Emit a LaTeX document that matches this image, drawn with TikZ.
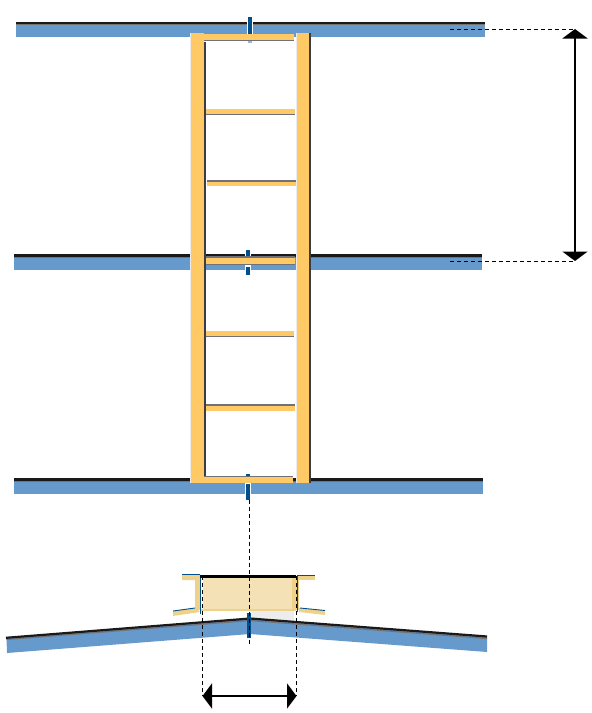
\documentclass[tikz,border=0pt]{standalone}
\usetikzlibrary{arrows.meta}
\definecolor{beamblue}{HTML}{6699CC}
\definecolor{boltblue}{HTML}{004F8C}
\definecolor{woodyel}{HTML}{FFC966}
\definecolor{chanyel}{HTML}{EFD28A}
\definecolor{boxfill}{HTML}{F5E1B6}
\definecolor{edgegrey}{HTML}{707078}
\definecolor{stringeredge}{HTML}{3C3C44}
\tikzset{
  beam/.style={fill=beamblue,draw=none},
  topline/.style={draw=black!90,line width=2.2pt},
  underline/.style={draw=black!55,line width=1.2pt},
  wood/.style={fill=woodyel,draw=none},
  shade line/.style={draw=edgegrey,line width=1.3pt},
  stringer line/.style={draw=stringeredge,line width=2pt},
  halo/.style={fill=white,draw=none},
  bolt/.style={fill=boltblue,draw=none},
  chan/.style={fill=chanyel,draw=none},
  chanedge/.style={draw=boltblue,line width=0.9pt},
  dimdash/.style={draw=black,line width=0.7pt,dash pattern=on 4pt off 3pt},
  dimarrow/.style={draw=black,line width=2pt,{Triangle[length=9.5pt,width=25pt]}-{Triangle[length=9.5pt,width=25pt]}}
}
\begin{document}
\begin{tikzpicture}[x=1pt,y=-1pt]
\useasboundingbox (0,0) rectangle (592,713);
% light patch under box
\fill[black!7] (250,610) rectangle (294,621);
% floor beams
\fill[beam] (16,23) rectangle (485,36.8);
\draw[underline] (16,24.5) -- (485,24.5);
\draw[topline] (16,22.6) -- (485,22.6);
\fill[beam] (14,256) rectangle (482,269.5);
\draw[underline] (14,257.5) -- (482,257.5);
\draw[topline] (14,255.4) -- (482,255.4);
\fill[beam] (14,480) rectangle (483,494);
\draw[underline] (14,481.5) -- (483,481.5);
\draw[topline] (14,479.4) -- (483,479.4);
% roof beam
\fill[beam] (6.5,638) -- (250,619) -- (487,637) -- (487,652) -- (250,634) -- (7,653) -- cycle;
\draw[underline] (6.5,639.5) -- (250,620.5) -- (487,638.5);
\draw[topline] (6,637.8) -- (250,618.5) -- (487,636.5);
% bolts
\fill[halo] (247,17) rectangle (253,35);
\fill[bolt] (248.2,17) rectangle (252,34);
\fill[beamblue!70] (248.2,40) rectangle (252,43);
\fill[halo] (245,250) rectangle (251,275);
\fill[bolt] (246,250) rectangle (250,259);
\fill[bolt] (246,267) rectangle (250,275);
\fill[bolt] (246,474) rectangle (250,475.5);
\fill[halo] (245,483) rectangle (251,495);
\fill[bolt] (246,484) rectangle (250,499.5);
% rungs and shading
\fill[wood] (204,34) rectangle (294,40);
\draw[shade line] (204,40.6) -- (294,40.6);
\fill[wood] (205,109) rectangle (295,114);
\draw[shade line] (205,114.6) -- (295,114.6);
\fill[wood] (207,181.5) rectangle (296,186.3);
\draw[shade line] (207,180.9) -- (296,180.9);
\fill[wood] (206,258) rectangle (295,264);
\draw[shade line] (206,264.6) -- (295,264.6);
\draw[shade line] (206,257) -- (295,257);
\fill[wood] (205,331) rectangle (294,335.7);
\draw[shade line] (205,336.3) -- (294,336.3);
\fill[wood] (205,405.5) rectangle (295,410.5);
\draw[shade line] (205,404.9) -- (295,404.9);
\fill[wood] (204,477) rectangle (293,483);
\draw[shade line] (204,476.4) -- (293,476.4);
% stringers
\fill[black!8] (189.5,33) rectangle (191,483);
\fill[black!8] (295.5,33) rectangle (297,483);
\fill[wood] (190.5,33) rectangle (203.5,483);
\fill[wood] (296.5,33) rectangle (308.8,483);
\draw[stringer line] (204.6,42) -- (204.6,476);
\draw[stringer line] (309.6,33) -- (309.6,483);
% channel section
\fill[boxfill] (203,577) rectangle (296,610);
\fill[chan] (182,575) -- (200,575) -- (200,610) -- (195,610) -- (195,580) -- (182,580) -- cycle;
\fill[chan] (292,577) rectangle (297,610);
\fill[chan] (297,575) rectangle (315,580);
\fill[chan] (297,580) rectangle (299,610);
\fill[chan] (173,611) -- (196,608) -- (200,612) -- (173,616) -- cycle;
\fill[chan] (299,608) -- (325,610.5) -- (325,615) -- (299,612) -- cycle;
\fill[chan] (200,609) rectangle (296,610.5);
\draw[chanedge] (182,574.7) -- (200,574.7);
\draw[chanedge] (200.5,574.5) -- (200.5,614);
\draw[chanedge] (173,611) -- (195,608);
\draw[chanedge] (297,575) -- (315,575);
\draw[chanedge] (297,575) -- (297,612);
\draw[chanedge] (300,608) -- (325,610.5);
\draw[draw=black,line width=2.6pt] (200,576.2) -- (296,576.2);
\fill[bolt] (247,613) rectangle (250.5,638);
% dimension lines
\coordinate (topdash) at (450,29);
\coordinate (topend) at (575,29);
\coordinate (middash) at (450,261);
\coordinate (midend) at (575,261);
\coordinate (axistop) at (249,499.5);
\coordinate (axisbot) at (249,645);
\coordinate (ltop) at (202.5,576);
\coordinate (lbot) at (202.5,696);
\coordinate (rtop) at (296.5,576);
\coordinate (rbot) at (296.5,696);
\draw[dimdash] (topdash) -- (topend);
\draw[dimdash] (middash) -- (midend);
\draw[dimdash] (axistop) -- (axisbot);
\draw[dimdash] (ltop) -- (lbot);
\draw[dimdash] (rtop) -- (rbot);
\draw[dimarrow] (topend) -- (midend);
\draw[dimarrow] (lbot) -- (rbot);
\end{tikzpicture}
\end{document}
